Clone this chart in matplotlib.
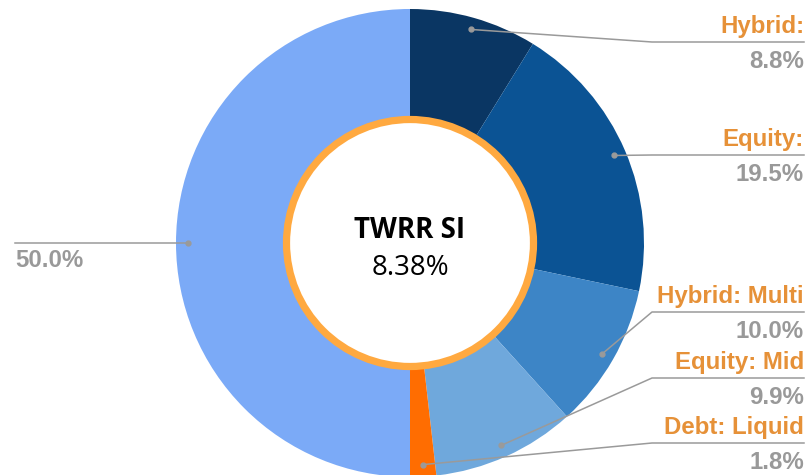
import numpy as np
import matplotlib.pyplot as plt
from matplotlib.patches import Circle

# asset allocation shares (%), clockwise from 12 o'clock
names = ["Hybrid:", "Equity:", "Hybrid: Multi", "Equity: Mid", "Debt: Liquid", ""]
shares = [8.8, 19.5, 10.0, 9.9, 1.8, 50.0]
colors = ["#0a3663", "#0b5394", "#3d85c6", "#6fa8dc", "#ff6d01", "#7baaf7"]

center_title = "TWRR SI"
center_value = "8.38%"

W, H = 807, 475
cx, cy, R = 410, H - 243, 234

fig = plt.figure(figsize=(W / 100, H / 100), dpi=100)
ax = fig.add_axes([0, 0, 1, 1])

wedges, _ = ax.pie(shares, colors=colors, startangle=90, counterclock=False,
                   center=(cx, cy), radius=R, wedgeprops=dict(linewidth=0))

# inner hole with orange ring
ax.add_patch(Circle((cx, cy), 123.5, facecolor="white", edgecolor="#ffa940",
                    linewidth=5.2, zorder=3))
ax.text(cx, H - 238, center_title, ha="center", va="baseline", fontsize=20,
        fontweight="bold", family="Open Sans", color="black", zorder=4)
ax.text(cx, H - 275, center_value, ha="center", va="baseline", fontsize=20,
        family="Open Sans", color="black", zorder=4)

# label rows on the right (pixel rows from the top)
line_rows = [42, 155, 312, 378, 443]
lc = "#9a9a9a"
for w, name, val, row in zip(wedges, names, shares, line_rows + [243]):
    mid = np.deg2rad((w.theta1 + w.theta2) / 2)
    px, py = cx + 222 * np.cos(mid), cy + 222 * np.sin(mid)
    ly = H - row
    ax.plot([px], [py], "o", color=lc, ms=3.5, zorder=5)
    if name:
        ax.plot([px, 652, 804], [py, ly, ly], color=lc, lw=1.1, zorder=5)
        ax.text(804, ly + 9, name, ha="right", va="baseline", fontsize=17.3,
                fontweight="bold", family="Liberation Sans", color="#e69138")
        ax.text(804, ly - 26, f"{val:.1f}%", ha="right", va="baseline",
                fontsize=17.3, fontweight="bold", family="Liberation Sans",
                color="#999999")
    else:
        ax.plot([px, 15], [py, ly], color=lc, lw=1.1, zorder=5)
        ax.text(15, ly - 24, f"{val:.1f}%", ha="left", va="baseline",
                fontsize=17.3, fontweight="bold", family="Liberation Sans",
                color="#999999")

ax.set_xlim(0, W)
ax.set_ylim(0, H)
ax.set_aspect("auto")
ax.axis("off")
fig.savefig("out.png", dpi=100)
